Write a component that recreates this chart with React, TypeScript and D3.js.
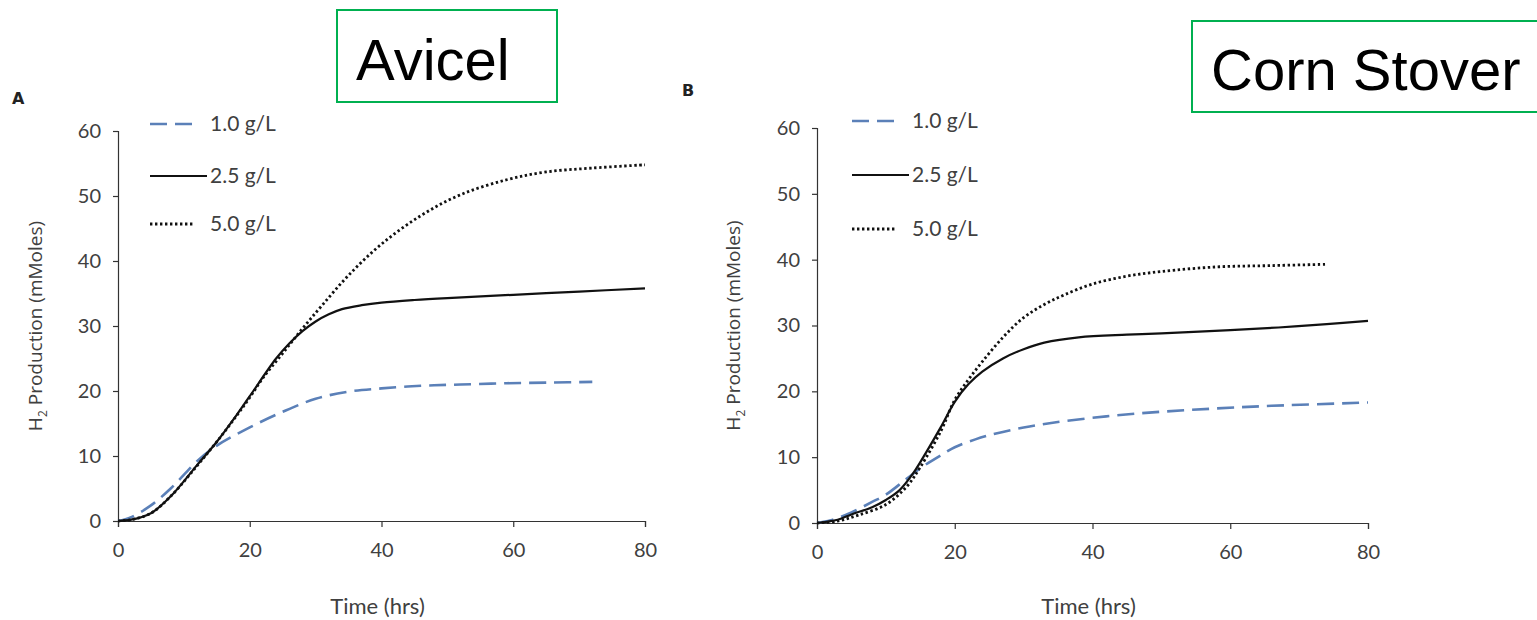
import { useEffect, useRef } from "react";
import * as d3 from "d3";

// Time (hrs) / H2 (mMoles)
const xTicks = [0, 20, 40, 60, 80];
const yTicks = [0, 10, 20, 30, 40, 50, 60];
const legendLabels = ["1.0 g/L", "2.5 g/L", "5.0 g/L"];

// Panel A - Avicel
const avicelLow = [[0, 0], [2, 0.6], [5, 2.4], [8, 5], [12, 9.2], [15, 11.6], [20, 14.4], [25, 16.8], [30, 18.8], [35, 19.9], [40, 20.4], [46, 20.8], [52, 21], [59, 21.2], [66, 21.3], [72, 21.4]];
const avicelMid = [[0, 0], [2, 0.2], [5, 1.2], [8, 3.8], [12, 8.6], [15, 12.2], [18, 16.3], [20, 19.2], [24, 25], [26, 27.3], [28, 29.2], [30, 30.7], [32, 31.8], [34, 32.6], [37, 33.2], [40, 33.6], [45, 34], [50, 34.3], [60, 34.8], [70, 35.3], [80, 35.8]];
const avicelHigh = [[0, 0], [2, 0.2], [5, 1.2], [8, 3.8], [12, 8.5], [15, 12.2], [18, 16.2], [20, 19], [22, 22], [25, 25.8], [28, 29.6], [31, 33.2], [35, 37.8], [40, 42.6], [46, 47], [52, 50.2], [59, 52.5], [65, 53.7], [72, 54.3], [80, 54.8]];

// Panel B - Corn Stover
const stoverLow = [[0, 0], [2, 0.4], [5, 1.6], [8, 3.2], [10, 4.3], [13, 6.7], [15.4, 8.6], [18, 10.3], [20, 11.5], [23, 12.7], [26, 13.6], [30, 14.5], [34, 15.2], [42, 16.2], [50, 16.9], [58, 17.4], [66, 17.8], [80, 18.3]];
const stoverMid = [[0, 0], [3, 0.5], [5, 1.3], [8, 2.4], [10, 3.5], [12, 5], [14, 7.6], [16, 11], [18, 14.6], [20, 18.4], [22, 21.1], [24, 23], [27, 25], [30, 26.4], [33, 27.4], [38, 28.2], [45, 28.6], [50, 28.8], [60, 29.3], [67, 29.7], [74, 30.2], [80, 30.7]];
const stoverHigh = [[0, 0], [3, 0.3], [6, 1.2], [10, 2.8], [13, 5.5], [15, 8.5], [18, 14], [20, 18.7], [22, 21.8], [24, 24.5], [27, 28.2], [30, 31.2], [33, 33.2], [36, 34.7], [40, 36.3], [45, 37.5], [50, 38.2], [58, 38.9], [66, 39.1], [74, 39.3]];

const styles = [
  { color: "#5b80b8", width: 2.6, dash: "17,8", legLen: 50 },
  { color: "#111", width: 2.2, dash: null, legLen: 57 },
  { color: "#111", width: 2.8, dash: "2.4,2.6", legLen: 44 },
];

const chartFont = "Lato, 'Open Sans', sans-serif";
const textGray = "#404040";

const panels = [
  { letter: "A", title: "Avicel", series: [avicelLow, avicelMid, avicelHigh],
    x0: 118, x1: 645, y0: 521, y1: 131, letterX: 12, letterY: 104,
    legX: 150, legY: [124, 176, 224], titleX: 42,
    box: [337, 10, 220, 92], boxText: [356, 80] },
  { letter: "B", title: "Corn Stover", series: [stoverLow, stoverMid, stoverHigh],
    x0: 817, x1: 1368, y0: 523, y1: 128, letterX: 682, letterY: 96,
    legX: 852, legY: [121, 175, 229], titleX: 740,
    box: [1192, 21, 360, 91], boxText: [1211, 90] },
];

const App = () => {
  const ref = useRef<SVGSVGElement>(null);

  useEffect(() => {
    const svg = d3.select(ref.current);
    svg.selectAll("*").remove();

    panels.forEach((p) => {
      const x = d3.scaleLinear().domain([0, 80]).range([p.x0, p.x1]);
      const y = d3.scaleLinear().domain([0, 60]).range([p.y0, p.y1]);
      const g = svg.append("g");

      // y axis
      const ya = g.append("g")
        .attr("transform", `translate(${p.x0},0)`)
        .call(d3.axisLeft(y).tickValues(yTicks).tickSize(5).tickPadding(12));
      // x axis
      const xa = g.append("g")
        .attr("transform", `translate(0,${p.y0})`)
        .call(d3.axisBottom(x).tickValues(xTicks).tickSize(6).tickPadding(16));
      [ya, xa].forEach((a) => {
        a.select(".domain").attr("stroke", "#333").attr("stroke-width", 1.2);
        a.selectAll(".tick line").attr("stroke", "#333").attr("stroke-width", 1.2);
        a.selectAll(".tick text")
          .attr("fill", textGray)
          .style("font-family", chartFont)
          .style("font-size", "20px");
      });

      // lines
      const line = d3.line<number[]>()
        .x((d) => x(d[0]))
        .y((d) => y(d[1]))
        .curve(d3.curveCatmullRom.alpha(0.5));
      p.series.forEach((s, i) => {
        g.append("path")
          .datum(s)
          .attr("fill", "none")
          .attr("stroke", styles[i].color)
          .attr("stroke-width", styles[i].width)
          .attr("stroke-dasharray", styles[i].dash)
          .attr("d", line);
      });

      // legend
      legendLabels.forEach((lab, i) => {
        const ly = p.legY[i];
        g.append("line")
          .attr("x1", p.legX).attr("x2", p.legX + styles[i].legLen)
          .attr("y1", ly).attr("y2", ly)
          .attr("stroke", styles[i].color)
          .attr("stroke-width", styles[i].width)
          .attr("stroke-dasharray", styles[i].dash);
        g.append("text")
          .attr("x", p.legX + 60).attr("y", ly + 7)
          .attr("fill", textGray)
          .style("font-family", chartFont)
          .style("font-size", "21px")
          .text(lab);
      });

      // axis titles
      g.append("text")
        .attr("x", (p.x0 + p.x1) / 2 - 4).attr("y", 614)
        .attr("text-anchor", "middle")
        .attr("fill", textGray)
        .style("font-family", chartFont)
        .style("font-size", "22px")
        .text("Time (hrs)");
      const yt = g.append("text")
        .attr("transform", `translate(${p.titleX},${(p.y0 + p.y1) / 2}) rotate(-90)`)
        .attr("text-anchor", "middle")
        .attr("fill", textGray)
        .style("font-family", "'Open Sans', sans-serif")
        .style("font-size", "19px");
      yt.append("tspan").text("H");
      yt.append("tspan").attr("dy", 5).style("font-size", "12px").text("2");
      yt.append("tspan").attr("dy", -5).text(" Production (mMoles)");

      // panel letter
      g.append("text")
        .attr("x", p.letterX).attr("y", p.letterY)
        .attr("fill", "#222")
        .style("font-family", "'DejaVu Sans', sans-serif")
        .style("font-weight", "bold")
        .style("font-size", "16px")
        .text(p.letter);

      // title box
      g.append("rect")
        .attr("x", p.box[0]).attr("y", p.box[1])
        .attr("width", p.box[2]).attr("height", p.box[3])
        .attr("fill", "#fff")
        .attr("stroke", "#00b050")
        .attr("stroke-width", 2);
      g.append("text")
        .attr("x", p.boxText[0]).attr("y", p.boxText[1])
        .attr("fill", "#000")
        .style("font-family", "'Liberation Sans', Arial, sans-serif")
        .style("font-size", "58px")
        .text(p.title);
    });
  }, []);

  return (
    <svg
      ref={ref}
      width={1537}
      height={620}
      style={{ position: "absolute", left: 0, top: 0, background: "#fff" }}
    />
  );
};

export default App;
